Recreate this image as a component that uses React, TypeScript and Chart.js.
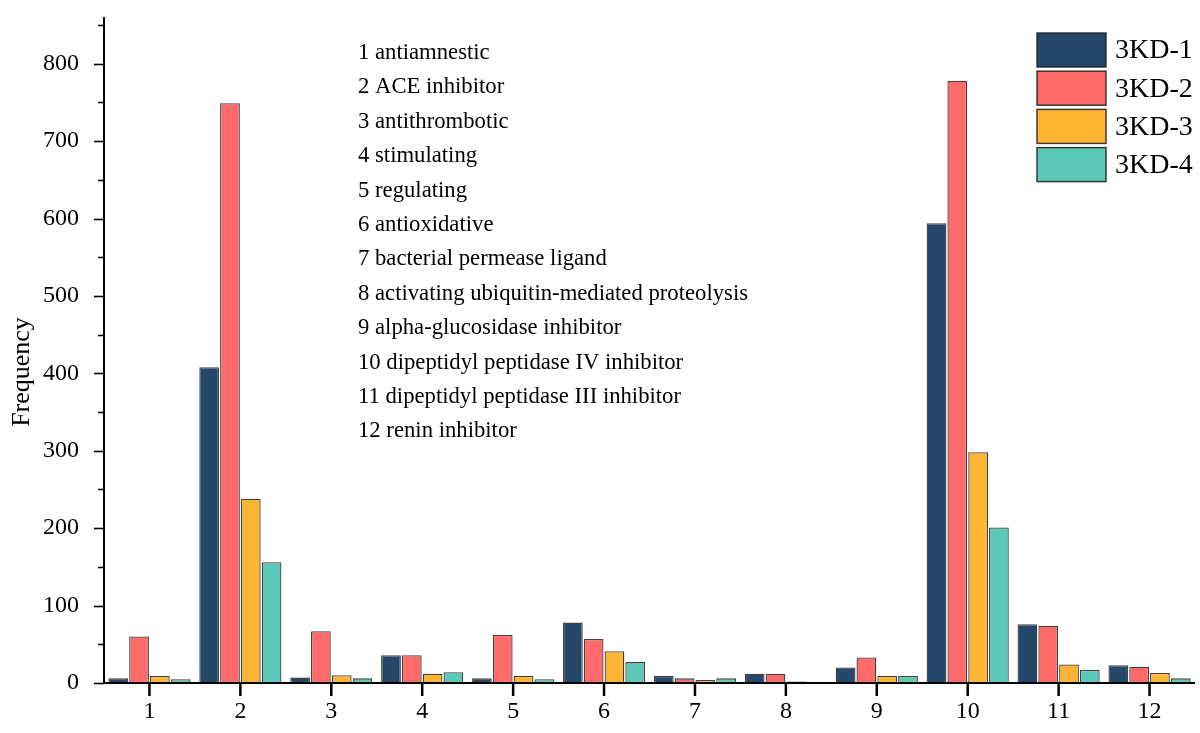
import React, { useEffect, useRef } from "react";
import { Chart, registerables } from "chart.js";

Chart.register(...registerables);

const categories = ["1", "2", "3", "4", "5", "6", "7", "8", "9", "10", "11", "12"];
const seriesNames = ["3KD-1", "3KD-2", "3KD-3", "3KD-4"];
const kd1 = [6, 408, 7, 36, 6, 78, 9, 12, 20, 594, 76, 23];
const kd2 = [60, 749, 67, 36, 62, 57, 6, 12, 33, 778, 74, 21];
const kd3 = [9, 238, 10, 12, 9, 41, 4, 2, 9, 298, 24, 13];
const kd4 = [5, 156, 6, 14, 5, 27, 6, 0, 9, 201, 17, 6];
const seriesColors = ["#25476A", "#FF6B6B", "#FFB534", "#5BC8B8"];
const yTickValues = [0, 100, 200, 300, 400, 500, 600, 700, 800];
const annotations = [
  "1 antiamnestic",
  "2 ACE inhibitor",
  "3 antithrombotic",
  "4 stimulating",
  "5 regulating",
  "6 antioxidative",
  "7 bacterial permease ligand",
  "8 activating ubiquitin-mediated proteolysis",
  "9 alpha-glucosidase inhibitor",
  "10 dipeptidyl peptidase IV inhibitor",
  "11 dipeptidyl peptidase III inhibitor",
  "12 renin inhibitor",
];

const FONT = "'Liberation Serif', 'Times New Roman', serif";

const decorPlugin = {
  id: "decor",
  afterDraw(chart: any) {
    const ctx = chart.ctx;
    const { left, right, top, bottom } = chart.chartArea;
    const y = chart.scales.y;
    const x = chart.scales.x;
    ctx.save();
    ctx.strokeStyle = "#000";
    // axis lines
    ctx.lineWidth = 2;
    ctx.beginPath();
    ctx.moveTo(left, top - 8);
    ctx.lineTo(left, bottom);
    ctx.lineTo(right, bottom);
    ctx.stroke();
    // y ticks major/minor
    ctx.lineWidth = 1.6;
    for (let v = 0; v <= 850; v += 50) {
      const py = Math.round(y.getPixelForValue(v)) + 0.5;
      const len = v % 100 === 0 ? 10 : 6;
      ctx.beginPath();
      ctx.moveTo(left - len, py);
      ctx.lineTo(left, py);
      ctx.stroke();
    }
    // x ticks
    ctx.lineWidth = 2.5;
    for (let i = 0; i < categories.length; i++) {
      const px = x.getPixelForValue(i);
      ctx.beginPath();
      ctx.moveTo(px, bottom);
      ctx.lineTo(px, bottom + 13);
      ctx.stroke();
    }
    // y title
    ctx.fillStyle = "#000";
    ctx.font = `26px ${FONT}`;
    ctx.textAlign = "center";
    ctx.textBaseline = "middle";
    ctx.translate(22, 372);
    ctx.rotate(-Math.PI / 2);
    ctx.fillText("Frequency", 0, 0);
    ctx.restore();

    // annotation list
    ctx.save();
    ctx.fillStyle = "#000";
    ctx.font = `22.7px ${FONT}`;
    ctx.textAlign = "left";
    ctx.textBaseline = "middle";
    annotations.forEach((t, i) => {
      ctx.fillText(t, 358, 53 + i * 34.4);
    });
    ctx.restore();

    // legend
    ctx.save();
    ctx.font = `28px ${FONT}`;
    ctx.textAlign = "left";
    ctx.textBaseline = "middle";
    seriesNames.forEach((name, i) => {
      const by = 33 + i * 38.2;
      ctx.fillStyle = seriesColors[i];
      ctx.fillRect(1037, by, 69, 34);
      ctx.strokeStyle = "rgba(30,30,30,0.85)";
      ctx.lineWidth = 1.5;
      ctx.strokeRect(1037, by, 69, 34);
      ctx.fillStyle = "#000";
      ctx.fillText(name, 1115, by + 18);
    });
    ctx.restore();
  },
};

export default function App() {
  const ref = useRef<HTMLCanvasElement>(null);
  useEffect(() => {
    if (!ref.current) return;
    Chart.defaults.font.family = FONT;
    Chart.defaults.color = "#000";
    const data = [kd1, kd2, kd3, kd4];
    const chart = new Chart(ref.current, {
      type: "bar",
      data: {
        labels: categories,
        datasets: seriesNames.map((name, i) => ({
          label: name,
          data: data[i],
          backgroundColor: seriesColors[i],
          borderColor: "rgba(30,30,30,0.85)",
          borderWidth: 1.3,
          categoryPercentage: 0.915,
          barPercentage: 0.95,
        })),
      },
      options: {
        responsive: true,
        maintainAspectRatio: false,
        animation: false,
        layout: { padding: { top: 25, right: 5, left: 0, bottom: 0 } },
        plugins: { legend: { display: false }, tooltip: { enabled: false } },
        scales: {
          x: {
            grid: { display: false, drawTicks: false },
            border: { display: false },
            ticks: { font: { size: 24, family: FONT }, color: "#000", padding: 14, maxRotation: 0 },
            afterFit: (s: any) => {
              s.height = 50;
              s.paddingLeft = 0;
              s.paddingRight = 0;
            },
          },
          y: {
            min: 0,
            max: 850,
            grid: { display: false, drawTicks: false },
            border: { display: false },
            afterBuildTicks: (s: any) => {
              s.ticks = yTickValues.map((v) => ({ value: v }));
            },
            ticks: { font: { size: 24, family: FONT }, color: "#000", padding: 25 },
            afterFit: (s: any) => {
              s.width = 104;
              s.paddingTop = 0;
              s.paddingBottom = 0;
            },
          },
        },
      },
      plugins: [decorPlugin],
    });
    return () => chart.destroy();
  }, []);
  return (
    <div style={{ position: "fixed", left: 0, top: 0, width: 1200, height: 733, background: "#fff" }}>
      <canvas ref={ref} />
    </div>
  );
}
